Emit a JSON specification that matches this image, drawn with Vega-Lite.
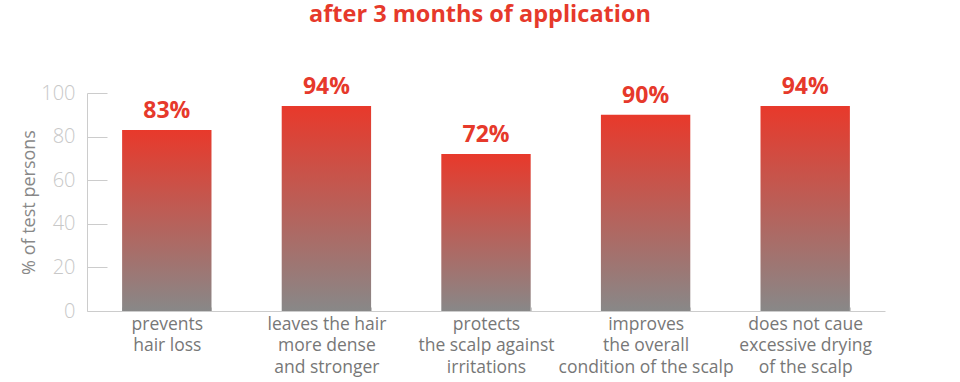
{
  "$schema": "https://vega.github.io/schema/vega-lite/v6.json",
  "autosize": {"type": "none"},
  "width": 798,
  "height": 218,
  "padding": {"left": 87, "top": 93, "right": 75, "bottom": 71},
  "background": "white",
  "title": {
    "text": "after 3 months of application",
    "font": "Open Sans",
    "fontSize": 23.5,
    "fontWeight": "bold",
    "color": "#e6392b",
    "anchor": "middle",
    "dx": -6,
    "offset": 50
  },
  "config": {"view": {"stroke": null}, "font": "Open Sans"},
  "data": {
    "values": [
      {"claim": "prevents|hair loss", "value": 83, "label": "83%"},
      {"claim": "leaves the hair|more dense|and stronger", "value": 94, "label": "94%"},
      {"claim": "protects|the scalp against|irritations", "value": 72, "label": "72%"},
      {"claim": "improves|the overall|condition of the scalp", "value": 90, "label": "90%"},
      {"claim": "does not caue|excessive drying|of the scalp", "value": 94, "label": "94%"}
    ]
  },
  "encoding": {
    "x": {
      "field": "claim",
      "type": "nominal",
      "sort": null,
      "scale": {"paddingInner": 0.44, "paddingOuter": 0.22},
      "axis": {
        "title": null,
        "labelAngle": 0,
        "labelExpr": "split(datum.label, '|')",
        "labelFont": "Open Sans",
        "labelFontSize": 17.5,
        "labelColor": "#777777",
        "labelLineHeight": 21.5,
        "labelPadding": 8,
        "labelLimit": 300,
        "tickBand": "extent",
        "tickSize": -4,
        "tickColor": "#cccccc",
        "domainColor": "#cccccc",
        "domainWidth": 1
      }
    },
    "y": {
      "field": "value",
      "type": "quantitative",
      "scale": {"domain": [0, 100]},
      "axis": {
        "title": "% of test persons",
        "titleFont": "Open Sans",
        "titleFontSize": 18,
        "titleFontWeight": "normal",
        "titleColor": "#888888",
        "titleAngle": -90,
        "titleX": -58,
        "titleY": 109,
        "titleAlign": "center",
        "titleBaseline": "middle",
        "values": [0, 20, 40, 60, 80, 100],
        "grid": false,
        "tickSize": -20,
        "tickColor": "#cccccc",
        "domainColor": "#cccccc",
        "labelFont": "Open Sans",
        "labelFontSize": 20,
        "labelFontWeight": 300,
        "labelColor": "#c8c8c8",
        "labelPadding": 32
      }
    }
  },
  "layer": [
    {
      "mark": {
        "type": "bar",
        "color": {
          "gradient": "linear",
          "x1": 0, "y1": 0, "x2": 0, "y2": 1,
          "stops": [
            {"offset": 0, "color": "#e8392b"},
            {"offset": 1, "color": "#888888"}
          ]
        }
      }
    },
    {
      "mark": {
        "type": "text",
        "baseline": "alphabetic",
        "dy": -12,
        "font": "Open Sans",
        "fontSize": 23,
        "fontWeight": "bold",
        "color": "#e6392b"
      },
      "encoding": {"text": {"field": "label"}}
    }
  ]
}
